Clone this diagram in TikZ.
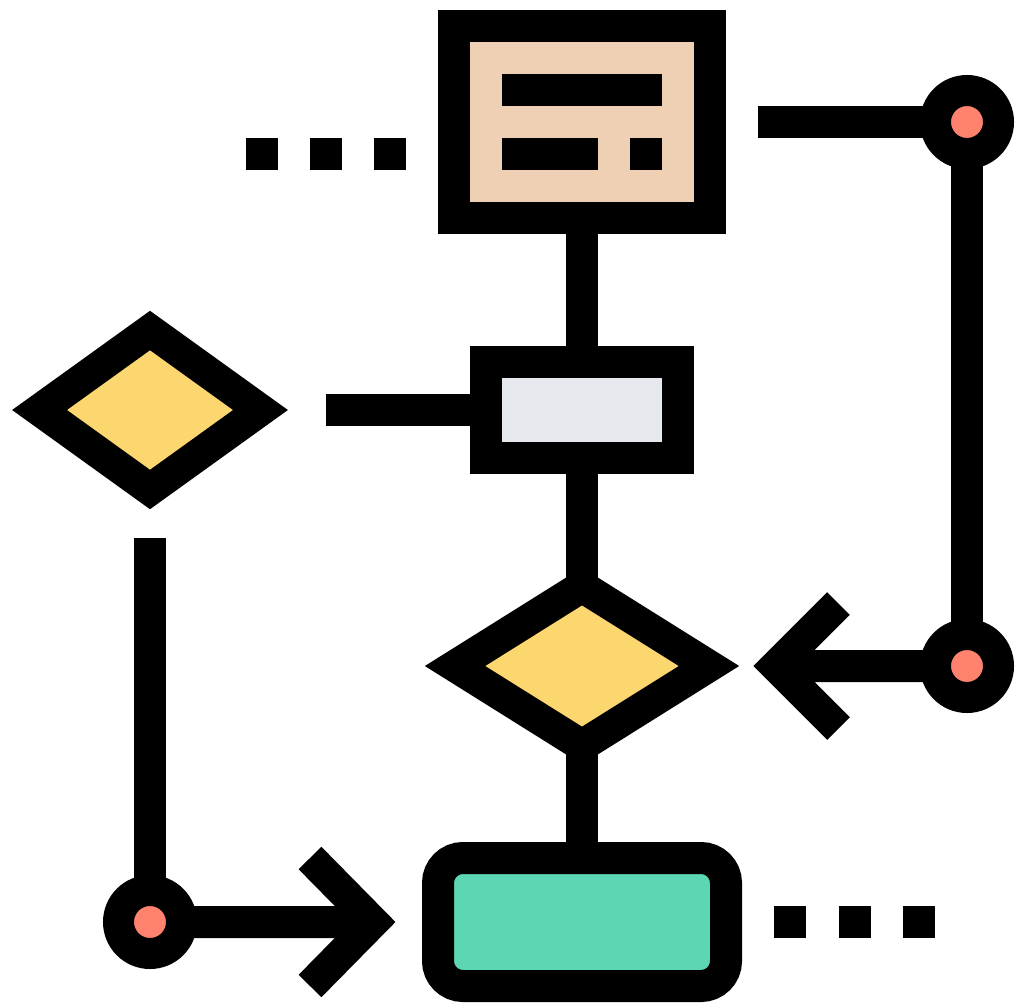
\documentclass[tikz,border=0pt]{standalone}
\usetikzlibrary{shapes.geometric}
\definecolor{peach}{HTML}{F0D0B4}
\definecolor{lgray}{HTML}{E6E9ED}
\definecolor{ydiam}{HTML}{FCD770}
\definecolor{mint}{HTML}{5CD6B3}
\definecolor{jred}{HTML}{FF826E}

\begin{document}
\begin{tikzpicture}[x=1pt,y=-1pt,
            box/.style={rectangle,draw,line width=32pt,inner sep=0pt,outer sep=0pt},
            decision/.style={diamond,draw,line width=32pt,inner sep=0pt,outer sep=0pt,fill=ydiam},
            joint/.style={circle,draw,line width=31pt,inner sep=0pt,outer sep=0pt,minimum size=63pt,fill=jred},
            dot/.style={rectangle,fill,inner sep=0pt,minimum size=32pt},
            wire/.style={line width=32pt}]
            \useasboundingbox (0,0) rectangle (1015,1002);

            % shapes
            \node (top) at (582,122) [box,fill=peach,minimum width=256pt,minimum height=192pt] {};
            \node (mid) at (582,410) [box,fill=lgray,minimum width=192pt,minimum height=96pt] {};
            \node (bot) at (582,922) [box,fill=mint,rounded corners=25pt,minimum width=288pt,minimum height=128pt] {};
            \node (dleft) at (150,410) [decision,minimum width=221pt,minimum height=159pt] {};
            \node (dmid) at (582,666) [decision,minimum width=254pt,minimum height=159pt] {};

            % text lines in the top box
            \node (bar1) at (582,90) [dot,minimum width=160pt] {};
            \node (bar2) at (550,154) [dot,minimum width=96pt] {};
            \node (bar3) at (646,154) [dot] {};

            % dots
            \node (ld1) at (262,154) [dot] {};
            \node (ld2) at (326,154) [dot] {};
            \node (ld3) at (390,154) [dot] {};
            \node (rd1) at (790,922) [dot] {};
            \node (rd2) at (855,922) [dot] {};
            \node (rd3) at (919,922) [dot] {};

            % joints
            \node (j1) at (967,122) [joint] {};
            \node (j2) at (967,666) [joint] {};
            \node (j3) at (150,922) [joint] {};

            \coordinate (ta) at (758,122);
            \coordinate (la) at (326,410);
            \coordinate (lb) at (150,538);
            \coordinate (tipa) at (776,666);
            \coordinate (tipb) at (373,922);

            \draw[wire] (top) -- (mid) (mid) -- (dmid) (dmid) -- (bot) (la) -- (mid);
            \draw[wire] (ta) -- (j1) (j1) -- (j2) (lb) -- (j3);
            \draw[wire] (j2) -- (tipa) ++(62.5,-62.5) -- (tipa) -- ++(62.5,62.5);
            \draw[wire] (j3) -- (tipb) ++(-63,-64) -- (tipb) -- ++(-63,64);

        \end{tikzpicture}
\end{document}
